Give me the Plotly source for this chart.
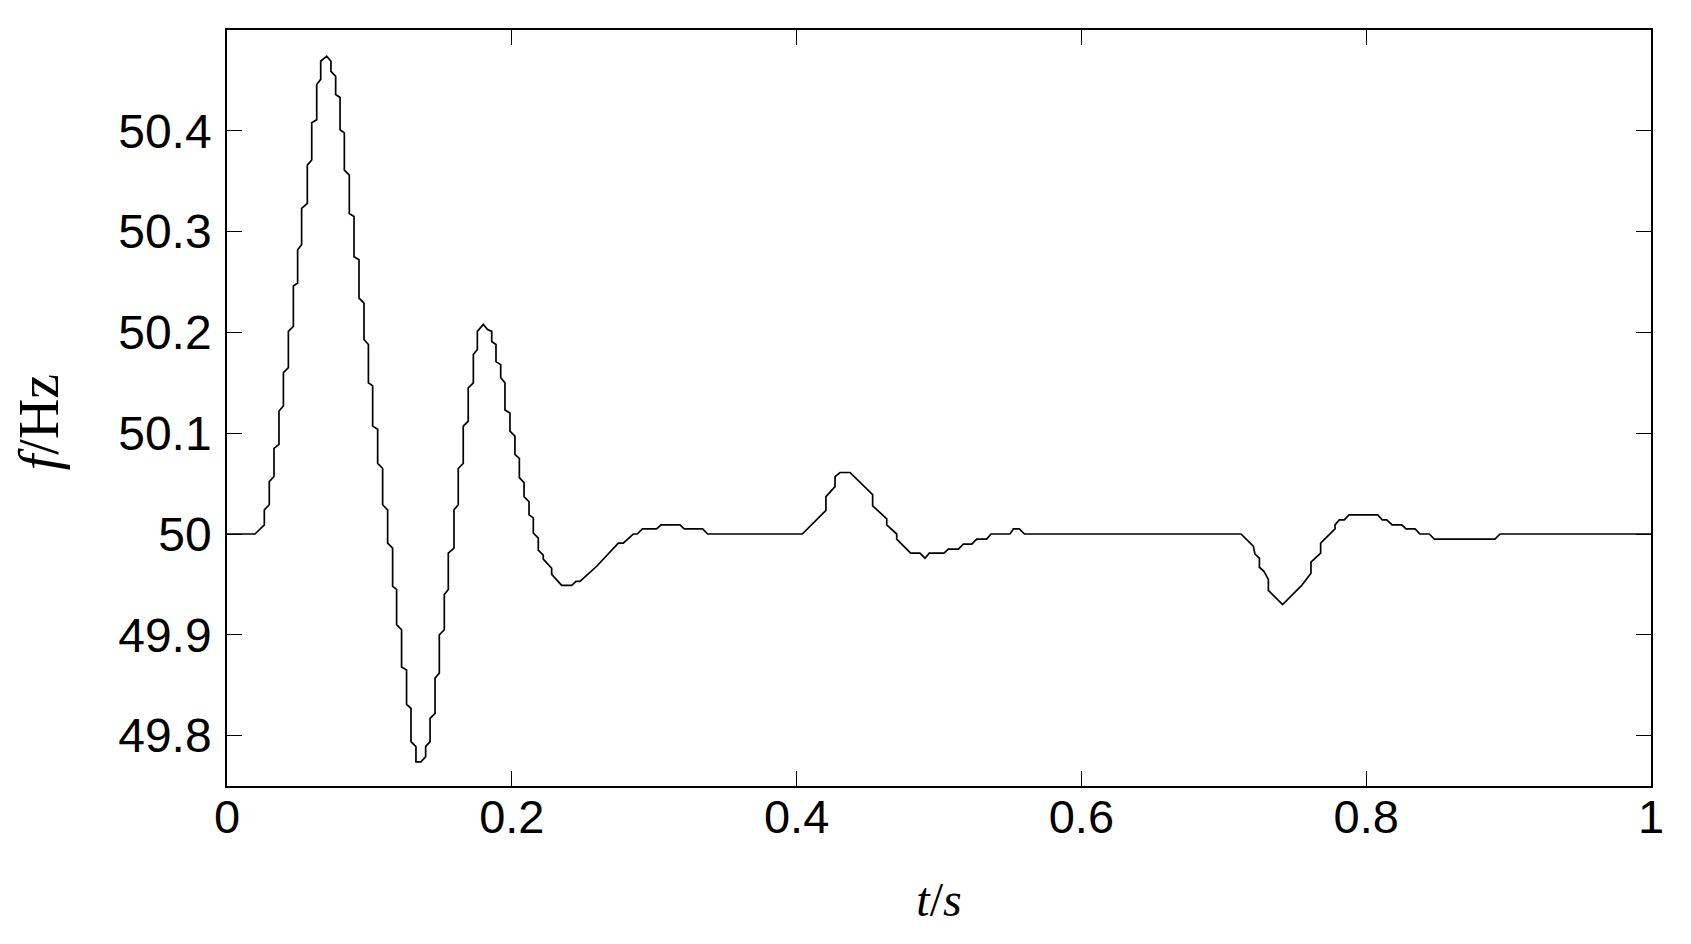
import plotly.graph_objects as go

# Vertices of the frequency trace (time in s, frequency in Hz)
t_s = [
    0.0, 0.0197, 0.0262, 0.0262, 0.0297, 0.0297, 0.0330, 0.0330, 0.0365, 0.0365,
    0.0396, 0.0396, 0.0431, 0.0431, 0.0466, 0.0466, 0.0496, 0.0496, 0.0524, 0.0524,
    0.0564, 0.0564, 0.0595, 0.0595, 0.0630, 0.0630, 0.0658, 0.0658, 0.0700, 0.0730,
    0.0730, 0.0763, 0.0763, 0.0794, 0.0794, 0.0824, 0.0824, 0.0859, 0.0859, 0.0892,
    0.0892, 0.0927, 0.0927, 0.0962, 0.0962, 0.0993, 0.0993, 0.1023, 0.1023, 0.1058,
    0.1058, 0.1093, 0.1093, 0.1128, 0.1128, 0.1163, 0.1163, 0.1191, 0.1191, 0.1226,
    0.1226, 0.1261, 0.1261, 0.1292, 0.1292, 0.1327, 0.1327, 0.1362, 0.1395, 0.1395,
    0.1426, 0.1426, 0.1461, 0.1461, 0.1491, 0.1491, 0.1526, 0.1526, 0.1554, 0.1554,
    0.1594, 0.1594, 0.1624, 0.1624, 0.1659, 0.1659, 0.1694, 0.1694, 0.1730, 0.1730,
    0.1758, 0.1758, 0.1800, 0.1828, 0.1859, 0.1859, 0.1889, 0.1889, 0.1922, 0.1922,
    0.1952, 0.1952, 0.1987, 0.1987, 0.2022, 0.2022, 0.2053, 0.2053, 0.2086, 0.2086,
    0.2121, 0.2121, 0.2151, 0.2151, 0.2186, 0.2186, 0.2221, 0.2221, 0.2280, 0.2280,
    0.2350, 0.2420, 0.2451, 0.2479, 0.2596, 0.2678, 0.2748, 0.2783, 0.2853, 0.2881,
    0.2917, 0.3017, 0.3048, 0.3181, 0.3211, 0.3340, 0.3376, 0.4040, 0.4206, 0.4206,
    0.4270, 0.4270, 0.4305, 0.4375, 0.4534, 0.4534, 0.4633, 0.4633, 0.4703, 0.4703,
    0.4801, 0.4866, 0.4902, 0.4932, 0.5035, 0.5065, 0.5136, 0.5171, 0.5230, 0.5265,
    0.5335, 0.5365, 0.5499, 0.5522, 0.5564, 0.5600, 0.7121, 0.7207, 0.7219, 0.7250,
    0.7250, 0.7282, 0.7313, 0.7313, 0.7413, 0.7547, 0.7612, 0.7612, 0.7680, 0.7680,
    0.7781, 0.7781, 0.7811, 0.7846, 0.7879, 0.8081, 0.8113, 0.8144, 0.8183, 0.8249,
    0.8280, 0.8343, 0.8378, 0.8443, 0.8478, 0.8904, 0.8940, 1.0,
]
f_hz = [
    50.000, 50.000, 50.009, 50.024, 50.029, 50.052, 50.057, 50.085, 50.089, 50.122,
    50.127, 50.160, 50.165, 50.201, 50.206, 50.246, 50.249, 50.282, 50.287, 50.323,
    50.328, 50.366, 50.371, 50.408, 50.411, 50.446, 50.451, 50.469, 50.474, 50.469,
    50.459, 50.454, 50.436, 50.433, 50.401, 50.398, 50.361, 50.356, 50.318, 50.315,
    50.275, 50.272, 50.234, 50.229, 50.193, 50.188, 50.150, 50.147, 50.107, 50.104,
    50.070, 50.065, 50.029, 50.024, 49.991, 49.986, 49.948, 49.945, 49.910, 49.905,
    49.868, 49.865, 49.831, 49.827, 49.794, 49.789, 49.774, 49.774, 49.779, 49.789,
    49.794, 49.817, 49.822, 49.857, 49.862, 49.900, 49.905, 49.940, 49.945, 49.981,
    49.986, 50.024, 50.029, 50.065, 50.070, 50.107, 50.112, 50.145, 50.150, 50.178,
    50.183, 50.201, 50.208, 50.203, 50.201, 50.191, 50.188, 50.171, 50.168, 50.155,
    50.150, 50.123, 50.120, 50.102, 50.097, 50.079, 50.075, 50.056, 50.051, 50.037,
    50.032, 50.019, 50.016, 50.001, 49.996, 49.984, 49.979, 49.975, 49.966, 49.960,
    49.949, 49.949, 49.953, 49.953, 49.968, 49.981, 49.991, 49.991, 50.000, 50.000,
    50.005, 50.005, 50.009, 50.009, 50.005, 50.005, 50.000, 50.000, 50.0235, 50.037,
    50.047, 50.057, 50.061, 50.061, 50.039, 50.028, 50.015, 50.009, 50.000, 49.995,
    49.981, 49.981, 49.976, 49.981, 49.981, 49.985, 49.985, 49.990, 49.990, 49.995,
    49.995, 50.000, 50.000, 50.005, 50.005, 50.000, 50.000, 49.988, 49.980, 49.976,
    49.967, 49.963, 49.955, 49.944, 49.930, 49.949, 49.961, 49.972, 49.981, 49.991,
    50.005, 50.009, 50.014, 50.014, 50.019, 50.019, 50.014, 50.014, 50.009, 50.009,
    50.005, 50.005, 50.000, 50.000, 49.995, 49.995, 50.000, 50.000,
]

x_ticks = [0, 0.2, 0.4, 0.6, 0.8, 1]
x_tick_labels = ["0", "0.2", "0.4", "0.6", "0.8", "1"]
y_ticks = [49.8, 49.9, 50.0, 50.1, 50.2, 50.3, 50.4]
y_tick_labels = ["49.8", "49.9", "50", "50.1", "50.2", "50.3", "50.4"]

fig = go.Figure()
fig.add_trace(go.Scatter(
    x=t_s, y=f_hz, mode="lines",
    line=dict(color="black", width=1.7),
    showlegend=False,
))

# the page body adds an 8 px margin, so the figure is sized to fit inside the window
fig.update_layout(
    width=1675, height=928,
    margin=dict(l=219, r=32, t=22, b=150),
    paper_bgcolor="white", plot_bgcolor="white",
)
fig.update_xaxes(
    range=[0, 1], tickvals=x_ticks, ticktext=x_tick_labels,
    showgrid=False, zeroline=False,
    showline=True, linecolor="black", linewidth=1.5, mirror="allticks",
    ticks="inside", ticklen=15, tickwidth=1, tickcolor="black",
    tickfont=dict(family="Liberation Sans, Arial", size=47, color="black"),
    ticklabelstandoff=-11,
    title=dict(text="<i>t</i>/<i>s</i>", standoff=40,
               font=dict(family="Liberation Serif, Times New Roman", size=48, color="black")),
)
fig.update_yaxes(
    range=[49.75, 50.5], tickvals=y_ticks, ticktext=y_tick_labels,
    showgrid=False, zeroline=False,
    showline=True, linecolor="black", linewidth=1.5, mirror="allticks",
    ticks="inside", ticklen=15, tickwidth=1, tickcolor="black",
    tickfont=dict(family="Liberation Sans, Arial", size=48, color="black"),
    ticklabelstandoff=4,
    title=dict(text="<i>f</i>/Hz&nbsp;&nbsp;", standoff=42,
               font=dict(family="Liberation Serif, Times New Roman", size=56, color="black")),
)

fig.write_html("out.html")
